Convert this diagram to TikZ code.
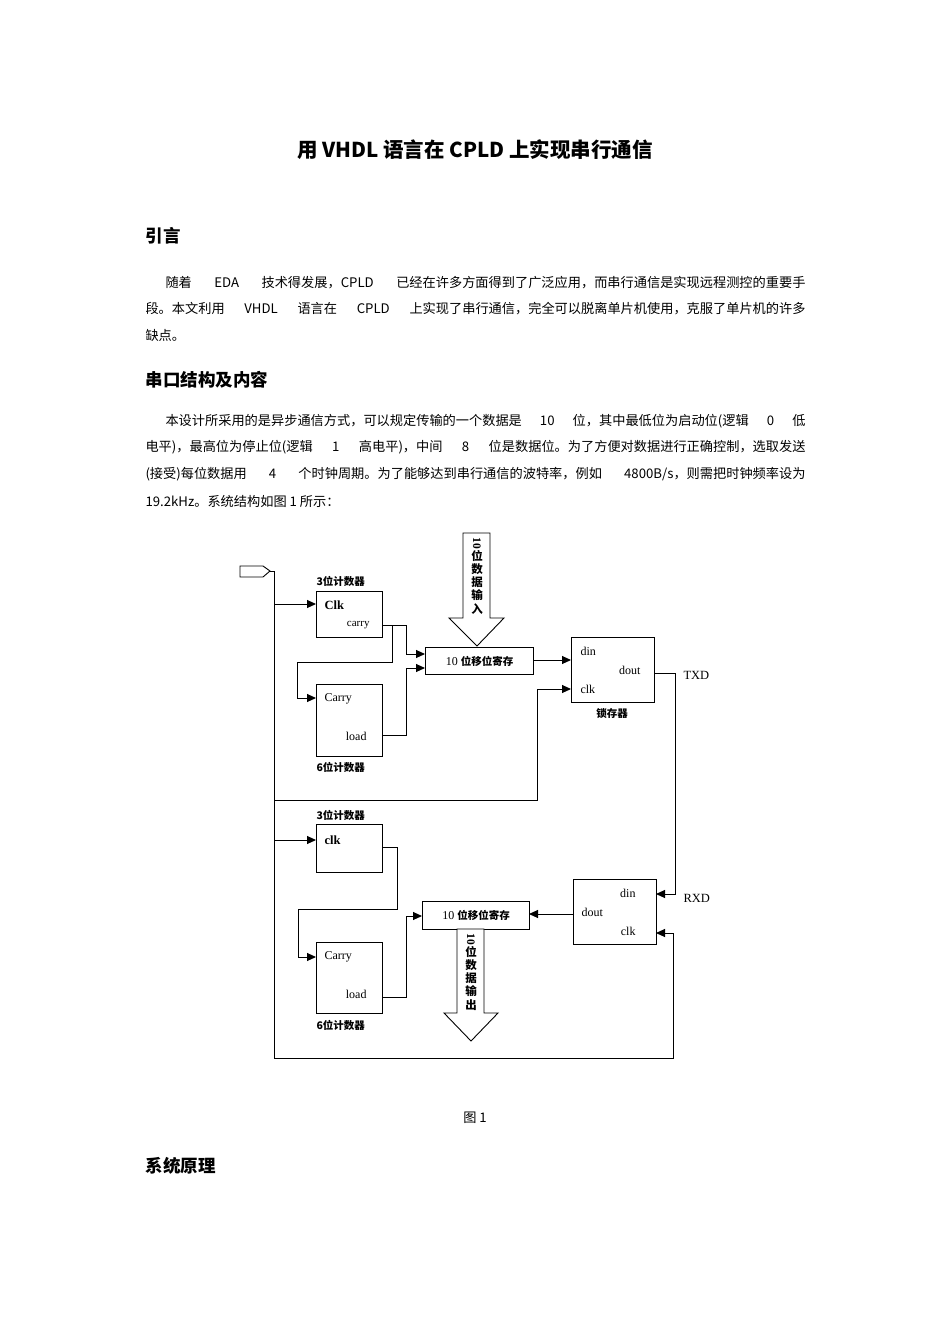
\documentclass[tikz,border=0pt]{standalone}
\usepackage{fontspec}
\setmainfont{Noto Sans CJK SC}
\newfontfamily\serifl{Liberation Serif}
\usetikzlibrary{arrows.meta}
\XeTeXlinebreaklocale "zh"
\XeTeXlinebreakskip=0pt plus 2pt
\newcommand{\fullline}[2]{\makebox[#1][s]{#2}}
\begin{document}
\begin{tikzpicture}[x=1pt,y=-1pt,
  line width=1pt,
  box/.style={draw,line width=1pt,anchor=north west,inner sep=0pt},
  port/.style={font=\serifl\fontsize{12}{13}\selectfont,inner sep=0pt},
  lbl/.style={font=\fontsize{10.5}{12}\selectfont\bfseries,inner sep=0pt,anchor=west},
  body/.style={font=\fontsize{13.2}{15}\selectfont,anchor=west,inner sep=0pt},
  head/.style={font=\fontsize{17.5}{20}\selectfont\bfseries,anchor=west,inner sep=0pt},
  arr/.style={-{Triangle[length=9pt,width=8pt]}},
  vtext/.style={font=\fontsize{11.5}{13.3}\selectfont\bfseries,align=center,inner sep=0pt}
]
\useasboundingbox[fill=white] (0,0) rectangle (950,1344);
% ---------- page text ----------
\node[font=\fontsize{20.5}{24}\selectfont\bfseries,inner sep=0pt] (title) at (475,150) {用 VHDL 语言在 CPLD 上实现串行通信};
\node[head] (h1) at (145,236) {引言};
\node[body] (p1a) at (165,283) {\fullline{640pt}{随着 EDA 技术得发展，CPLD 已经在许多方面得到了广泛应用，而串行通信是实现远程测控的重要手}};
\node[body] (p1b) at (145,309) {\fullline{660pt}{段。本文利用 VHDL 语言在 CPLD 上实现了串行通信，完全可以脱离单片机使用，克服了单片机的许多}};
\node[body] (p1c) at (145,335) {缺点。};
\node[head] (h2) at (145,380) {串口结构及内容};
\node[body] (p2a) at (165,421) {\fullline{640pt}{本设计所采用的是异步通信方式，可以规定传输的一个数据是 10 位，其中最低位为启动位(逻辑 0 低}};
\node[body] (p2b) at (145,447) {\fullline{660pt}{电平)，最高位为停止位(逻辑 1 高电平)，中间 8 位是数据位。为了方便对数据进行正确控制，选取发送}};
\node[body] (p2c) at (145,474) {\fullline{660pt}{(接受)每位数据用 4 个时钟周期。为了能够达到串行通信的波特率，例如 4800B/s，则需把时钟频率设为}};
\node[body] (p2d) at (145,501) {19.2kHz。系统结构如图 1 所示：};
\node[font=\fontsize{13.2}{15}\selectfont,inner sep=0pt] (fig) at (475,1118) {图 1};
\node[head] (h3) at (145,1166) {系统原理};
% ---------- diagram ----------
\draw[line width=0.9pt] (240,566) -- (263,566) -- (270,571) -- (263,577) -- (240,577) -- cycle;
\coordinate (inp) at (270,571);
\coordinate (busT) at (274,571);
\coordinate (busB) at (274,1058);
\draw (inp) -- (busT) -- (busB) -- (673,1058) -- (673,933);
% top section
\node[box,minimum width=66pt,minimum height=46pt] (c1) at (316,591) {};
\node[lbl] (c1l) at (316,581) {3位计数器};
\node[port,anchor=west,font=\serifl\bfseries\fontsize{12.5}{13}\selectfont] (c1clk) at (324,605) {Clk};
\node[port,anchor=east,font=\serifl\fontsize{11}{12}\selectfont] (c1car) at (370,625) {carry};
\node[box,minimum width=66pt,minimum height=72pt] (c2) at (316,684) {};
\node[lbl] (c2l) at (316,767) {6位计数器};
\node[port,anchor=west] (c2car) at (324,699) {Carry};
\node[port,anchor=east] (c2load) at (367,736) {load};
\node[box,minimum width=108pt,minimum height=27pt] (s1) at (425,647) {};
\node[font=\serifl\fontsize{12}{13}\selectfont,inner sep=0pt] (s1t) at (s1.center) {10 \fontsize{10.5}{12}\selectfont\rmfamily\bfseries 位移位寄存};
\node[box,minimum width=83pt,minimum height=65pt] (l1) at (571,637) {};
\node[port,anchor=west] (l1din) at (580,651) {din};
\node[port,anchor=east] (l1dout) at (641,670) {dout};
\node[port,anchor=west] (l1clk) at (580,689) {clk};
\node[lbl,anchor=center] (l1l) at (612,714) {锁存器};
\node[port,anchor=west,font=\serifl\fontsize{12.5}{13}\selectfont] (txd) at (683,675) {TXD};
\draw[arr] (274,604) -- (316,604);
\draw[arr] (382,625) -- (406,625) -- (406,654) -- (425,654);
\draw (392,625) -- (392,662) -- (297,662) -- (297,698);
\draw[arr] (297,698) -- (316,698);
\draw[arr] (382,735) -- (406,735) -- (406,668) -- (425,668);
\draw[arr] (533,660) -- (571,660);
\draw[arr] (274,800) -- (537,800) -- (537,689) -- (571,689);
\draw[arr] (654,673) -- (675,673) -- (675,894) -- (656,894);
\draw[line width=0.9pt,fill=white] (463,533) -- (490,533) -- (490,618) -- (504,618) -- (477,646) -- (449,618) -- (463,618) -- cycle;
\node[vtext,anchor=north] (inlbl) at (477,537) {\rotatebox{-90}{\serifl 10}\\位\\数\\据\\输\\入};
% bottom section
\node[box,minimum width=66pt,minimum height=48pt] (c3) at (316,824) {};
\node[lbl] (c3l) at (316,815) {3位计数器};
\node[port,anchor=west,font=\serifl\bfseries\fontsize{12.5}{13}\selectfont] (c3clk) at (324,840) {clk};
\node[box,minimum width=66pt,minimum height=71pt] (c4) at (316,942) {};
\node[lbl] (c4l) at (316,1025) {6位计数器};
\node[port,anchor=west] (c4car) at (324,957) {Carry};
\node[port,anchor=east] (c4load) at (367,994) {load};
\node[box,minimum width=107pt,minimum height=28pt] (s2) at (422,901) {};
\node[font=\serifl\fontsize{12}{13}\selectfont,inner sep=0pt] (s2t) at (s2.center) {10 \fontsize{10.5}{12}\selectfont\rmfamily\bfseries 位移位寄存};
\node[box,minimum width=83pt,minimum height=65pt] (r1) at (573,879) {};
\node[port,anchor=east] (r1din) at (636,893) {din};
\node[port,anchor=west] (r1dout) at (581,912) {dout};
\node[port,anchor=east] (r1clk) at (636,931) {clk};
\node[port,anchor=west,font=\serifl\fontsize{12.5}{13}\selectfont] (rxd) at (683,898) {RXD};
\draw[arr] (274,840) -- (316,840);
\draw (382,847) -- (397,847) -- (397,909) -- (298,909) -- (298,957);
\draw[arr] (298,957) -- (316,957);
\draw[arr] (382,997) -- (406,997) -- (406,916) -- (422,916);
\draw[arr] (573,914) -- (529,914);
\draw[arr] (673,933) -- (656,933);
\draw[line width=0.9pt,fill=white] (457,929) -- (484,929) -- (484,1013) -- (498,1013) -- (471,1041) -- (444,1013) -- (457,1013) -- cycle;
\node[vtext,anchor=north] (outlbl) at (471,933) {\rotatebox{-90}{\serifl 10}\\位\\数\\据\\输\\出};
\end{tikzpicture}
\end{document}
